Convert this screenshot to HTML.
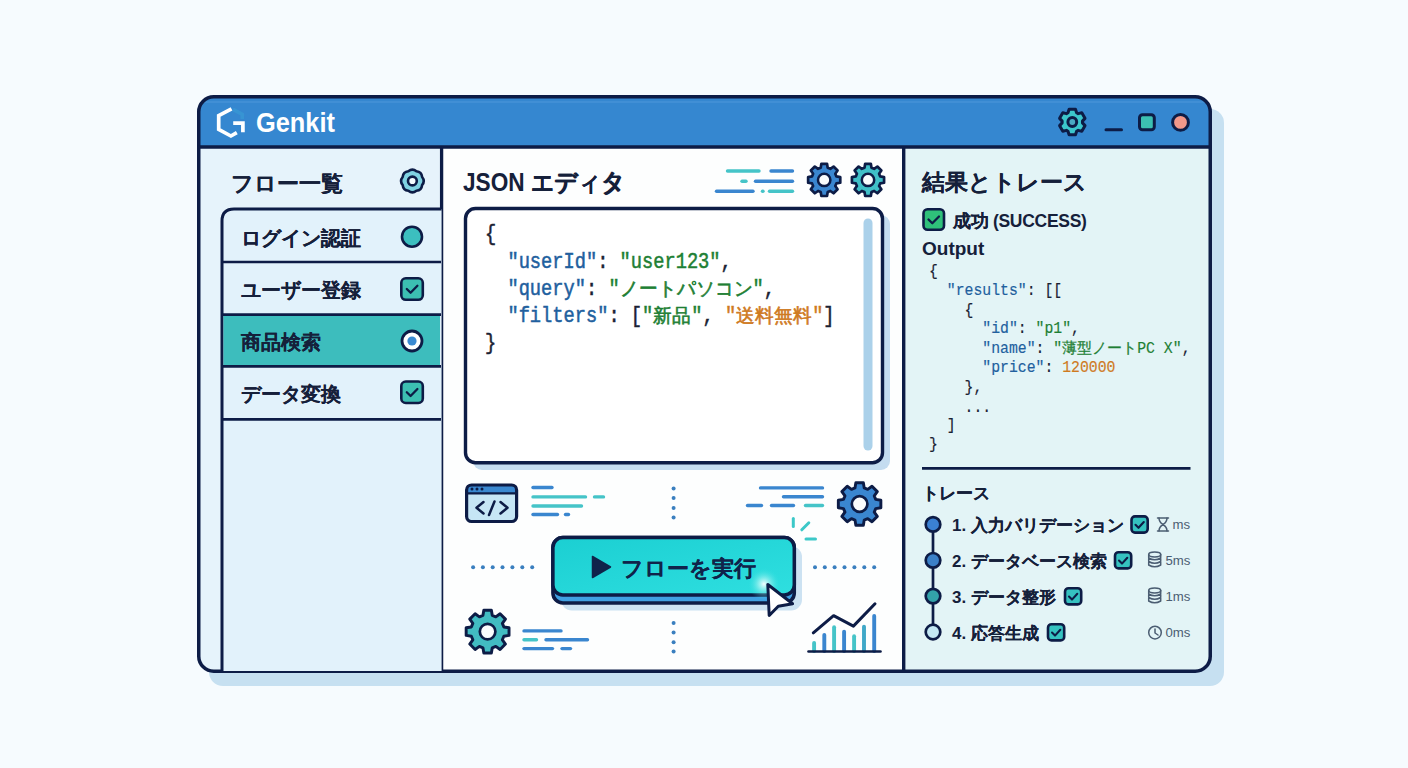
<!DOCTYPE html>
<html><head><meta charset="utf-8">
<style>
html,body{margin:0;padding:0;width:1408px;height:768px;overflow:hidden;background:#f6fbfe;}
body{position:relative;font-family:"Liberation Sans",sans-serif;color:#15203a;}
svg{position:absolute;left:0;top:0;}
.t{position:absolute;white-space:nowrap;font-weight:bold;line-height:1;}
.j{text-shadow:0.3px 0 0 currentColor;}
.m{position:absolute;white-space:pre;font-family:"Liberation Mono",monospace;line-height:1;transform-origin:0 0;-webkit-text-stroke:0.45px currentColor;}
.cj{display:inline-block;transform-origin:0 70%;}
.k{color:#21609e}.s{color:#1e7f34}.o{color:#cf7a1f}.p{color:#1a2233}
</style></head>
<body>
<svg width="1408" height="768" viewBox="0 0 1408 768">
<defs>
<path id="gear" d="M-3.64,-12.69 L-2.95,-16.74 L2.95,-16.74 L3.64,-12.69 L6.40,-11.54 L9.75,-13.93 L13.93,-9.75 L11.54,-6.40 L12.69,-3.64 L16.74,-2.95 L16.74,2.95 L12.69,3.64 L11.54,6.40 L13.93,9.75 L9.75,13.93 L6.40,11.54 L3.64,12.69 L2.95,16.74 L-2.95,16.74 L-3.64,12.69 L-6.40,11.54 L-9.75,13.93 L-13.93,9.75 L-11.54,6.40 L-12.69,3.64 L-16.74,2.95 L-16.74,-2.95 L-12.69,-3.64 L-11.54,-6.40 L-13.93,-9.75 L-9.75,-13.93 L-6.40,-11.54Z"/>
<clipPath id="win"><rect x="198.75" y="96.75" width="1011.5" height="574.5" rx="15"/></clipPath>
<linearGradient id="btn" x1="0" y1="0" x2="1" y2="1">
<stop offset="0" stop-color="#1bcfd2"/><stop offset="1" stop-color="#2fdfe0"/></linearGradient>
<radialGradient id="glow" cx="0.5" cy="0.5" r="0.5"><stop offset="0" stop-color="#ffffff" stop-opacity="0.95"/><stop offset="0.35" stop-color="#bff8f6" stop-opacity="0.6"/><stop offset="1" stop-color="#2fdfe0" stop-opacity="0"/></radialGradient>
</defs>
<!-- window shadow -->
<rect x="209" y="109" width="1015" height="577" rx="14" fill="#c6e0f1"/>
<g clip-path="url(#win)">
<rect x="197" y="95" width="1015" height="578" fill="#e3f4f6"/>
<rect x="197" y="95" width="245" height="578" fill="#e6f3fb"/>
<rect x="441" y="95" width="463" height="578" fill="#fdfefe"/>
<rect x="197" y="95" width="1015" height="52" fill="#3587d0"/>
<rect x="197" y="101" width="1015" height="2" fill="#4a94d8" opacity="0.6"/>
</g>
<!-- frame -->
<rect x="198.75" y="96.75" width="1011.5" height="574.5" rx="15" fill="none" stroke="#0d1c46" stroke-width="3.5"/>
<line x1="198" y1="147" x2="1210" y2="147" stroke="#0d1c46" stroke-width="3.5"/>
<line x1="441.6" y1="147" x2="441.6" y2="671" stroke="#0d1c46" stroke-width="3.3"/>
<line x1="903.7" y1="147" x2="903.7" y2="671" stroke="#0d1c46" stroke-width="3.4"/>

<!-- logo -->
<path d="M233,109.4 L242.3,114.3 L242.3,119" fill="none" stroke="#3ca8d6" stroke-width="3.6" opacity="0.4"/>
<path d="M231.5,108.9 L218.7,115.7 L218.7,129.3 L230.9,136 L236.8,132.6" fill="none" stroke="#ffffff" stroke-width="3.7" stroke-linejoin="miter"/>
<path d="M233.2,123.2 L242.9,123.2 L242.9,132.3" fill="none" stroke="#ffffff" stroke-width="3.7" stroke-linejoin="miter"/>

<!-- title icons -->
<path transform="translate(1072.3,122)" d="M-4.31,-9.24 L-3.19,-12.81 L3.19,-12.81 L4.31,-9.24 L5.85,-8.36 L9.50,-9.17 L12.69,-3.64 L10.16,-0.89 L10.16,0.89 L12.69,3.64 L9.50,9.17 L5.85,8.36 L4.31,9.24 L3.19,12.81 L-3.19,12.81 L-4.31,9.24 L-5.85,8.36 L-9.50,9.17 L-12.69,3.64 L-10.16,0.89 L-10.16,-0.89 L-12.69,-3.64 L-9.50,-9.17 L-5.85,-8.36Z" fill="#3cc6cc" stroke="#0d1c46" stroke-width="3" stroke-linejoin="round"/>
<circle cx="1072.3" cy="122" r="4.4" fill="#4aaac4" stroke="#0d1c46" stroke-width="3"/>
<line x1="1106" y1="129.8" x2="1121.5" y2="129.8" stroke="#0d1c46" stroke-width="3" stroke-linecap="round"/>
<rect x="1139.5" y="114.7" width="14.8" height="15" rx="3" fill="#3cc0b2" stroke="#0d1c46" stroke-width="3"/>
<circle cx="1180.5" cy="122.4" r="7.9" fill="#f2988a" stroke="#0d1c46" stroke-width="3"/>

<!-- sidebar header gear -->
<g transform="translate(412.4,181)"><path d="M-4.02,-9.70 Q0.00,-13.02 4.02,-9.70 Q9.21,-9.21 9.70,-4.02 Q13.02,0.00 9.70,4.02 Q9.21,9.21 4.02,9.70 Q0.00,13.02 -4.02,9.70 Q-9.21,9.21 -9.70,4.02 Q-13.02,0.00 -9.70,-4.02 Q-9.21,-9.21 -4.02,-9.70 Z" fill="#80d2e2" stroke="#0d1c46" stroke-width="2.6" stroke-linejoin="round"/></g>
<circle cx="412.4" cy="181" r="4.4" fill="#f4fbfd" stroke="#0d1c46" stroke-width="2.6"/>

<!-- flow list -->
<path d="M222,671 L222,221 Q222,209 234,209 L441.6,209 L441.6,671 Z" fill="#e2f2fb"/>
<path d="M222,671 L222,221 Q222,209 234,209 L441.6,209" fill="none" stroke="#0d1c46" stroke-width="3"/>
<rect x="223.5" y="315.8" width="216.5" height="49.2" fill="#3dbdbd"/>
<g stroke="#0d1c46" stroke-width="2.7">
<line x1="222" y1="262" x2="441" y2="262"/>
<line x1="222" y1="314.6" x2="441" y2="314.6"/>
<line x1="222" y1="366.3" x2="441" y2="366.3"/>
<line x1="222" y1="419.3" x2="441" y2="419.3"/>
</g>
<circle cx="412" cy="236.7" r="10" fill="#3cbfbf" stroke="#0d1c46" stroke-width="2.6"/>
<rect x="401.3" y="278.3" width="21.5" height="21.5" rx="4.5" fill="#3cbfb2" stroke="#0d1c46" stroke-width="2.6"/>
<polyline points="406.8,289 410.6,292.8 417.4,285.8" fill="none" stroke="#0d1c46" stroke-width="2.3" stroke-linecap="round" stroke-linejoin="round"/>
<circle cx="412" cy="341" r="10" fill="#ffffff" stroke="#0d1c46" stroke-width="2.8"/>
<circle cx="412" cy="341" r="4.6" fill="#3a8ad2"/>
<rect x="401.3" y="381.5" width="21.5" height="21.5" rx="4.5" fill="#3cbfb2" stroke="#0d1c46" stroke-width="2.6"/>
<polyline points="406.8,392.2 410.6,396 417.4,389" fill="none" stroke="#0d1c46" stroke-width="2.3" stroke-linecap="round" stroke-linejoin="round"/>

<!-- editor header decorations -->
<g stroke-width="3.4" stroke-linecap="round">
<line x1="727.5" y1="171" x2="759" y2="171" stroke="#45c4c8"/>
<line x1="771" y1="171" x2="792.5" y2="171" stroke="#3a86cf"/>
<line x1="742" y1="181.3" x2="746" y2="181.3" stroke="#45c4c8"/>
<line x1="755.5" y1="181.3" x2="792.5" y2="181.3" stroke="#3a86cf"/>
<line x1="716.5" y1="191.2" x2="753" y2="191.2" stroke="#3a86cf"/>
<line x1="762.5" y1="191.2" x2="763" y2="191.2" stroke="#45c4c8"/>
<line x1="769.5" y1="191.2" x2="792.5" y2="191.2" stroke="#45c4c8"/>
</g>
<g transform="translate(824.2,179.9) scale(0.96)"><use href="#gear" fill="#3a86d0" stroke="#0d1c46" stroke-width="2.8" stroke-linejoin="round"/></g>
<circle cx="824.2" cy="179.9" r="6.2" fill="#fafcfd" stroke="#0d1c46" stroke-width="2.5"/>
<g transform="translate(868,179.9) scale(0.96)"><use href="#gear" fill="#40c0c8" stroke="#0d1c46" stroke-width="2.8" stroke-linejoin="round"/></g>
<circle cx="868" cy="179.9" r="6.2" fill="#fafcfd" stroke="#0d1c46" stroke-width="2.5"/>

<!-- editor box -->
<rect x="473" y="215" width="417" height="255" rx="9" fill="#c4dcf0"/>
<rect x="465.5" y="208.5" width="417" height="254.2" rx="10" fill="#ffffff" stroke="#0d1c46" stroke-width="3.4"/>
<rect x="863.5" y="218.5" width="9" height="232" rx="4.5" fill="#abd1ea"/>

<!-- code icon -->
<rect x="466.6" y="485" width="50" height="36.5" rx="5" fill="#c6e6f5"/>
<path d="M466.6,493.4 L466.6,490 Q466.6,485 471.6,485 L511.6,485 Q516.6,485 516.6,490 L516.6,493.4 Z" fill="#3a88d0"/>
<line x1="466.6" y1="493.4" x2="516.6" y2="493.4" stroke="#0d1c46" stroke-width="2.4"/>
<rect x="466.6" y="485" width="50" height="36.5" rx="5" fill="none" stroke="#0d1c46" stroke-width="3.2"/>
<g fill="#0d1c46"><circle cx="472" cy="488.9" r="1.5"/><circle cx="477" cy="488.9" r="1.5"/><circle cx="482" cy="488.9" r="1.5"/></g>
<g fill="none" stroke="#0d1c46" stroke-width="2.5" stroke-linecap="round" stroke-linejoin="round">
<polyline points="483.5,502 476.5,507.8 483.5,513.5"/>
<line x1="494.5" y1="501.5" x2="489" y2="515"/>
<polyline points="500.5,502 507.5,507.8 500.5,513.5"/>
</g>
<g stroke-width="3.4" stroke-linecap="round">
<line x1="533" y1="487.5" x2="552" y2="487.5" stroke="#3a86cf"/>
<line x1="533" y1="496.9" x2="585.5" y2="496.9" stroke="#45c4c8"/>
<line x1="594.5" y1="496.9" x2="603.5" y2="496.9" stroke="#45c4c8"/>
<line x1="533" y1="506" x2="581.5" y2="506" stroke="#45c4c8"/>
<line x1="533" y1="514.5" x2="557.5" y2="514.5" stroke="#3a86cf"/>
<line x1="565.5" y1="514.5" x2="568.5" y2="514.5" stroke="#3a86cf"/>
</g>
<!-- dots -->
<g fill="#3a7fbf">
<circle cx="673.6" cy="488.5" r="2"/><circle cx="673.6" cy="498" r="2"/><circle cx="673.6" cy="507.9" r="2"/><circle cx="673.6" cy="517.6" r="2"/>
<circle cx="673.6" cy="623" r="2"/><circle cx="673.6" cy="632.5" r="2"/><circle cx="673.6" cy="642.2" r="2"/><circle cx="673.6" cy="651.5" r="2"/>
<circle cx="473.1" cy="567.3" r="2"/><circle cx="482.9" cy="567.3" r="2"/><circle cx="492.7" cy="567.3" r="2"/><circle cx="502.5" cy="567.3" r="2"/><circle cx="512.4" cy="567.3" r="2"/><circle cx="522.3" cy="567.3" r="2"/><circle cx="532.2" cy="567.3" r="2"/>
<circle cx="815" cy="567.3" r="2"/><circle cx="824.8" cy="567.3" r="2"/><circle cx="834.6" cy="567.3" r="2"/><circle cx="844.5" cy="567.3" r="2"/><circle cx="854.4" cy="567.3" r="2"/><circle cx="864.3" cy="567.3" r="2"/><circle cx="874.2" cy="567.3" r="2"/>
</g>
<!-- top-right lines + gear -->
<g stroke-width="3.4" stroke-linecap="round">
<line x1="760.5" y1="487.9" x2="822.5" y2="487.9" stroke="#3a86cf"/>
<line x1="783.5" y1="496.8" x2="822.5" y2="496.8" stroke="#3a86cf"/>
<line x1="747.5" y1="505.5" x2="761.5" y2="505.5" stroke="#3a86cf"/>
<line x1="771.5" y1="505.5" x2="793.5" y2="505.5" stroke="#3a86cf"/>
<line x1="805.5" y1="505.5" x2="822.5" y2="505.5" stroke="#45c4c8"/>
</g>
<g transform="translate(859.6,504) scale(1.27)"><use href="#gear" fill="#3a86d0" stroke="#0d1c46" stroke-width="2.3" stroke-linejoin="round"/></g>
<circle cx="859.6" cy="504" r="7.8" fill="#fafcfd" stroke="#0d1c46" stroke-width="2.7"/>
<!-- sparks -->
<g stroke="#3cc8c8" stroke-width="3" stroke-linecap="round">
<line x1="793.3" y1="518.5" x2="793.3" y2="526.5"/>
<line x1="801.8" y1="529.8" x2="808.8" y2="522.8"/>
<line x1="806" y1="539" x2="815.5" y2="539"/>
</g>
<!-- bottom-left gear + lines -->
<g transform="translate(487.6,631.6) scale(1.28)"><use href="#gear" fill="#42bcc2" stroke="#0d1c46" stroke-width="2.3" stroke-linejoin="round"/></g>
<circle cx="487.6" cy="631.6" r="7.8" fill="#fafcfd" stroke="#0d1c46" stroke-width="2.7"/>
<g stroke-width="3.4" stroke-linecap="round">
<line x1="524" y1="630.9" x2="561" y2="630.9" stroke="#3a86cf"/>
<line x1="524" y1="639.7" x2="536.5" y2="639.7" stroke="#45c4c8"/>
<line x1="546" y1="639.7" x2="587.5" y2="639.7" stroke="#3a86cf"/>
<line x1="524" y1="648.6" x2="552.5" y2="648.6" stroke="#3a86cf"/>
<line x1="562" y1="648.6" x2="570.5" y2="648.6" stroke="#3a86cf"/>
</g>
<!-- chart -->
<g stroke-width="3.9" stroke-linecap="round">
<line x1="814.1" y1="643" x2="814.1" y2="651" stroke="#45c4c8"/>
<line x1="824.3" y1="635" x2="824.3" y2="651" stroke="#3a86cf"/>
<line x1="834.1" y1="627.3" x2="834.1" y2="651" stroke="#45c4c8"/>
<line x1="844.1" y1="631.7" x2="844.1" y2="651" stroke="#3a86cf"/>
<line x1="854.1" y1="636.2" x2="854.1" y2="651" stroke="#45c4c8"/>
<line x1="864" y1="626.6" x2="864" y2="651" stroke="#3fa8c8"/>
<line x1="874.2" y1="616" x2="874.2" y2="651" stroke="#3a86cf"/>
</g>
<line x1="808.5" y1="651.5" x2="880.5" y2="651.5" stroke="#0d1c46" stroke-width="2.6" stroke-linecap="round"/>
<polyline points="813.3,632.9 833.6,615.7 853.4,626.1 875,603.8" fill="none" stroke="#0d1c46" stroke-width="3" stroke-linecap="round" stroke-linejoin="round"/>

<!-- button -->
<rect x="561" y="546" width="241" height="64.5" rx="11" fill="#cce2f2"/>
<rect x="552.9" y="537.5" width="241.4" height="65.5" rx="10" fill="#40a0e2" stroke="#0d1c46" stroke-width="3.5"/>
<rect x="552.9" y="537.5" width="241.4" height="57.5" rx="10" fill="url(#btn)" stroke="#0d1c46" stroke-width="3.5"/>
<circle cx="764" cy="584" r="16" fill="url(#glow)"/>
<path d="M592.5,556.5 L592.5,577.5 L610.5,567 Z" fill="#10234a" stroke="#10234a" stroke-width="1.5" stroke-linejoin="round"/>
<!-- cursor -->
<path d="M767.8,584.5 L769.2,615.5 L778.3,606.3 L792.6,603.8 Z" fill="#ffffff" stroke="#0d1c46" stroke-width="3" stroke-linejoin="round"/>

<!-- results -->
<rect x="923.5" y="209.3" width="20.5" height="20.5" rx="4" fill="#2fc07a" stroke="#0d1c46" stroke-width="2.6"/>
<polyline points="928.5,219.5 932.3,223.3 939,216.5" fill="none" stroke="#0d1c46" stroke-width="2.3" stroke-linecap="round" stroke-linejoin="round"/>
<line x1="922" y1="468.4" x2="1190.5" y2="468.4" stroke="#0d1c46" stroke-width="2.8"/>
<line x1="933" y1="524" x2="933" y2="632" stroke="#0d1c46" stroke-width="2.7"/>
<circle cx="933" cy="524.4" r="7.3" fill="#3b80d2" stroke="#0d1c46" stroke-width="2.7"/>
<circle cx="933" cy="560.3" r="7.3" fill="#3b80c8" stroke="#0d1c46" stroke-width="2.7"/>
<circle cx="933" cy="596.1" r="7.3" fill="#33a2aa" stroke="#0d1c46" stroke-width="2.7"/>
<circle cx="933" cy="632" r="7.3" fill="#c4e8f4" stroke="#0d1c46" stroke-width="2.7"/>
<g fill="#35c2c0" stroke="#0d1c46" stroke-width="2.6">
<rect x="1131.5" y="516.4" width="16.2" height="16.2" rx="3.5"/>
<rect x="1115" y="552.2" width="16.2" height="16.2" rx="3.5"/>
<rect x="1065" y="588.2" width="16.2" height="16.2" rx="3.5"/>
<rect x="1048" y="624.2" width="16.2" height="16.2" rx="3.5"/>
</g>
<g fill="none" stroke="#0d1c46" stroke-width="2.1" stroke-linecap="round" stroke-linejoin="round">
<polyline points="1135.5,524.8 1138.5,527.8 1143.8,522"/>
<polyline points="1119,560.6 1122,563.6 1127.3,557.8"/>
<polyline points="1069,596.6 1072,599.6 1077.3,593.8"/>
<polyline points="1052,632.6 1055,635.6 1060.3,629.8"/>
</g>
<!-- small icons -->
<g fill="none" stroke="#4b5d72" stroke-width="1.5" stroke-linecap="round" stroke-linejoin="round">
<line x1="1157.5" y1="518" x2="1168.5" y2="518"/>
<line x1="1157.5" y1="531" x2="1168.5" y2="531"/>
<path d="M1159,518 Q1159,522 1163,524.5 Q1167,527 1167,531 M1167,518 Q1167,522 1163,524.5 Q1159,527 1159,531"/>
<ellipse cx="1154.7" cy="554.5" rx="6" ry="2.4"/>
<path d="M1148.7,554.5 V565 Q1154.7,568.5 1160.7,565 V554.5 M1148.7,558 Q1154.7,561.5 1160.7,558 M1148.7,561.5 Q1154.7,565 1160.7,561.5"/>
<ellipse cx="1154.7" cy="590.5" rx="6" ry="2.4"/>
<path d="M1148.7,590.5 V601 Q1154.7,604.5 1160.7,601 V590.5 M1148.7,594 Q1154.7,597.5 1160.7,594 M1148.7,597.5 Q1154.7,601 1160.7,597.5"/>
<circle cx="1155" cy="632.6" r="6.3"/>
<path d="M1155,629 V633 L1158,635"/>
</g>
</svg>

<!-- TEXT -->
<div class="t" style="left:256px;top:108px;font-size:28.5px;color:#fff;transform:scaleX(0.89);transform-origin:0 0;">Genkit</div>
<div class="t j" style="left:231px;top:172.5px;font-size:22px;">フロー一覧</div>
<div class="t j" style="left:241px;top:228px;font-size:20px;">ログイン認証</div>
<div class="t j" style="left:241px;top:280px;font-size:20px;">ユーザー登録</div>
<div class="t j" style="left:241px;top:332px;font-size:20px;">商品検索</div>
<div class="t j" style="left:241px;top:384px;font-size:20px;">データ変換</div>

<div class="t" style="left:463px;top:170px;font-size:25px;transform:scaleX(0.905);transform-origin:0 0;">JSON <span class="j">エディタ</span></div>
<div class="m" style="left:485px;top:220.5px;font-size:18.7px;line-height:22.75px;transform:scaleY(1.2);"><span class="p">{</span>
  <span class="k">"userId"</span><span class="p">: </span><span class="s">"user123"</span><span class="p">,</span>
  <span class="k">"query"</span><span class="p">: </span><span class="s">"<span class="cj" style="transform:scaleY(0.85);font-size:19px;-webkit-text-stroke:0.6px currentColor;">ノートパソコン</span>"</span><span class="p">,</span>
  <span class="k">"filters"</span><span class="p">: [</span><span class="s">"<span class="cj" style="transform:scaleY(0.85);font-size:19px;-webkit-text-stroke:0.6px currentColor;">新品</span>"</span><span class="p">, </span><span class="o">"<span class="cj" style="transform:scaleY(0.85);font-size:19px;-webkit-text-stroke:0.6px currentColor;">送料無料</span>"</span><span class="p">]</span>
<span class="p">}</span></div>

<div class="t j" style="left:621px;top:558px;font-size:22px;color:#10234a;">フローを実行</div>

<div class="t j" style="left:922px;top:171.5px;font-size:22.5px;">結果とトレース</div>
<div class="t" style="left:953px;top:213px;font-size:17.5px;letter-spacing:-0.3px;"><span class="j">成功</span> (SUCCESS)</div>
<div class="t" style="left:922px;top:239px;font-size:19px;">Output</div>
<div class="m" style="left:929px;top:262px;font-size:14.8px;line-height:16.8px;transform:scaleY(1.15);-webkit-text-stroke:0.15px currentColor;"><span class="p">{</span>
  <span class="k">"results"</span><span class="p">: [[</span>
    <span class="p">{</span>
      <span class="k">"id"</span><span class="p">: </span><span class="s">"p1"</span><span class="p">,</span>
      <span class="k">"name"</span><span class="p">: </span><span class="s">"<span class="cj" style="transform:scaleY(0.87);font-size:14.6px;-webkit-text-stroke:0.25px currentColor;">薄型ノート</span>PC X"</span><span class="p">,</span>
      <span class="k">"price"</span><span class="p">: </span><span class="o">120000</span>
    <span class="p">},</span>
    <span class="p">...</span>
  <span class="p">]</span>
<span class="p">}</span></div>

<div class="t j" style="left:922px;top:485px;font-size:16.5px;">トレース</div>
<div class="t" style="left:952px;top:518px;font-size:16.9px;">1. <span class="j">入力バリデーション</span></div>
<div class="t" style="left:952px;top:554px;font-size:16.9px;">2. <span class="j">データベース検索</span></div>
<div class="t" style="left:952px;top:590px;font-size:16.9px;">3. <span class="j">データ整形</span></div>
<div class="t" style="left:952px;top:626px;font-size:16.9px;">4. <span class="j">応答生成</span></div>
<div class="t" style="left:1172.5px;top:518px;font-size:13.2px;font-weight:normal;color:#4b5d72;">ms</div>
<div class="t" style="left:1165.5px;top:554px;font-size:13.2px;font-weight:normal;color:#4b5d72;">5ms</div>
<div class="t" style="left:1165.5px;top:590px;font-size:13.2px;font-weight:normal;color:#4b5d72;">1ms</div>
<div class="t" style="left:1165.5px;top:626px;font-size:13.2px;font-weight:normal;color:#4b5d72;">0ms</div>
</body></html>
